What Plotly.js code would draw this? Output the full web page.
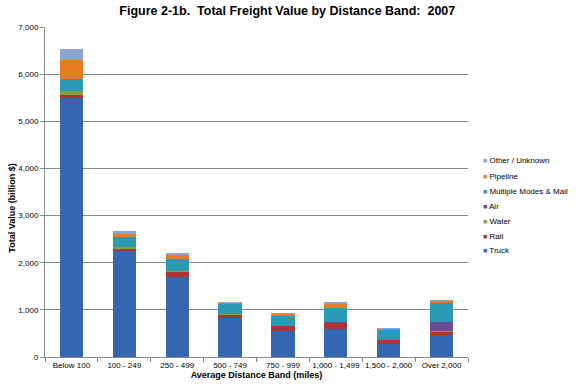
<!DOCTYPE html>
<html>
<head>
<meta charset="utf-8">
<script src="https://cdn.plot.ly/plotly-3.0.1.min.js"></script>
<style>html,body{margin:0;padding:0;background:#fff;}#chart{width:578px;height:392px;}</style>
</head>
<body>
<div id="chart"></div>
<script>
var categories = ["Below 100", "100 - 249", "250 - 499", "500 - 749", "750 - 999", "1,000 - 1,499", "1,500 - 2,000", "Over 2,000"];
var truck    = [5500, 2250, 1700, 835, 550, 595, 275, 465];
var rail     = [60, 50, 95, 55, 100, 120, 80, 70];
var water    = [80, 35, 20, 25, 5, 15, 10, 15];
var air      = [5, 5, 5, 5, 10, 20, 5, 200];
var multi    = [255, 195, 260, 205, 210, 295, 195, 395];
var pipeline = [400, 80, 85, 20, 40, 80, 30, 35];
var other    = [235, 65, 40, 30, 15, 40, 20, 30];

var seriesNames = ["Truck", "Rail", "Water", "Air", "Multiple Modes & Mail", "Pipeline", "Other / Unknown"];
var seriesValues = [truck, rail, water, air, multi, pipeline, other];
var seriesColors = ["#3467AF", "#AE3533", "#7FA53A", "#6A4D96", "#2B9AB4", "#E67D25", "#8DA3D3"];

var font = "Liberation Sans, Arial, sans-serif";
var traces = [];
seriesNames.forEach(function(n, i){
  traces.push({type:"bar", name:n, x:categories, y:seriesValues[i],
    marker:{color:seriesColors[i], line:{width:0}}, showlegend:false,
    hovertemplate:n+": %{y}<extra></extra>"});
});

// Legend drawn as text annotations (top item = last series), 15px apart
var annotations = [{text:"Total Value (billion $)", textangle:-90, xref:"paper", yref:"paper",
    x:-0.08, y:0.45, xanchor:"center", yanchor:"middle", showarrow:false,
    font:{family:font, size:9, color:"#000", weight:"bold"}}];
var n = seriesNames.length;
for (var k = 0; k < n; k++) {
  var i = n - 1 - k;
  annotations.push({
    text:"<span style='color:" + seriesColors[i] + ";font-size:7px'>■</span> " + seriesNames[i].replace("&","&amp;"),
    xref:"paper", yref:"paper", x:1.03, xanchor:"left",
    y:(357 - (161 + 15 * k)) / 330, yanchor:"middle", showarrow:false,
    font:{family:font, size:8, color:"#000"}
  });
}

var layout = {
  width:578, height:392,
  margin:{l:45, r:110, t:27, b:35},
  paper_bgcolor:"#fff", plot_bgcolor:"#fff",
  barmode:"stack", bargap:0.56,
  font:{family:font, size:8, color:"#000"},
  title:{text:"Figure 2-1b.  Total Freight Value by Distance Band:  2007",
    font:{family:font, size:12.5, color:"#000", weight:"bold"},
    x:0.497, xanchor:"center", y:0.973, yanchor:"middle"},
  xaxis:{type:"category", tickson:"boundaries", ticks:"outside", ticklen:4, tickcolor:"#888",
    tickangle:0, showline:true, linecolor:"#888", linewidth:1, showgrid:false,
    tickfont:{family:font, size:8, color:"#000"},
    title:{text:"Average Distance Band (miles)", font:{family:font, size:9, color:"#000", weight:"bold"}, standoff:2}},
  yaxis:{range:[0,7000], dtick:1000, tickformat:",d", ticks:"outside", ticklen:4, tickcolor:"#888",
    showline:true, linecolor:"#888", linewidth:1, gridcolor:"#888", gridwidth:1, zeroline:false,
    tickfont:{family:font, size:8, color:"#000"}},
  annotations:annotations,
  showlegend:false
};
Plotly.newPlot("chart", traces, layout, {displayModeBar:false, staticPlot:true});
</script>
</body>
</html>
